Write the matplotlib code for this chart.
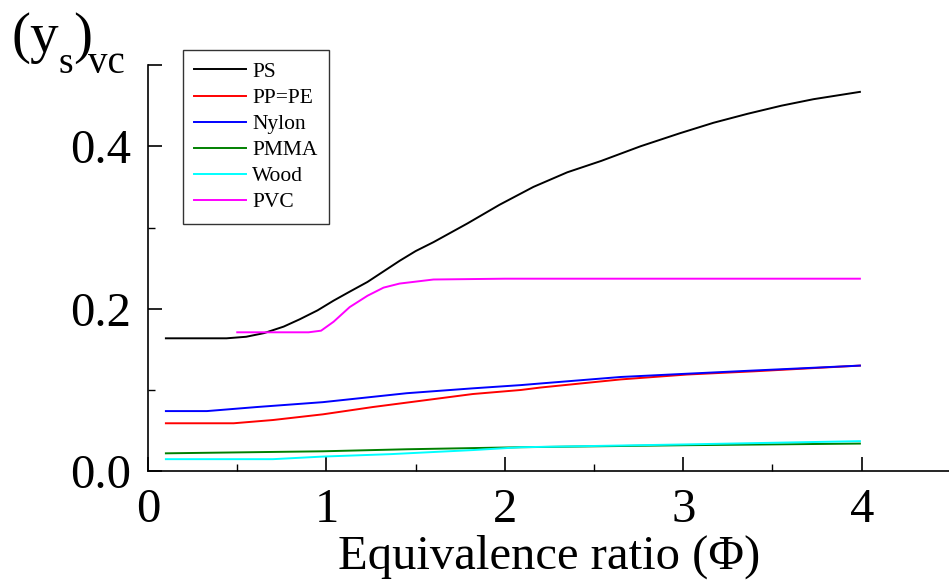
import matplotlib
matplotlib.use("Agg")
import matplotlib.pyplot as plt
from matplotlib.ticker import FixedLocator, MultipleLocator

plt.rcParams['font.family'] = ['Liberation Serif', 'DejaVu Serif']

# ---------------- data ----------------
ps_x = [0.1, 0.44, 0.55, 0.65, 0.76, 0.85, 0.95, 1.04, 1.13, 1.23, 1.32, 1.41,
        1.5, 1.6, 1.79, 1.97, 2.16, 2.35, 2.54, 2.76, 2.98, 3.17, 3.36, 3.55,
        3.73, 3.99]
ps_y = [0.1636, 0.1636, 0.1655, 0.170, 0.178, 0.187, 0.198, 0.210, 0.221, 0.233,
        0.246, 0.259, 0.271, 0.282, 0.305, 0.328, 0.350, 0.368, 0.382, 0.400,
        0.416, 0.429, 0.440, 0.450, 0.458, 0.467]

ppe_x = [0.1, 0.48, 0.70, 0.98, 1.26, 1.54, 1.82, 2.09, 2.2, 2.65, 3.02, 3.4, 3.99]
ppe_y = [0.059, 0.059, 0.063, 0.070, 0.079, 0.087, 0.095, 0.100, 0.103, 0.113,
         0.119, 0.123, 0.130]

nylon_x = [0.1, 0.33, 0.61, 0.98, 1.45, 1.82, 2.09, 2.2, 2.65, 3.02, 3.4, 3.99]
nylon_y = [0.074, 0.074, 0.079, 0.085, 0.096, 0.102, 0.106, 0.108, 0.116, 0.120,
           0.124, 0.130]

pmma_x = [0.1, 0.98, 1.45, 2.09, 3.02, 3.99]
pmma_y = [0.022, 0.0245, 0.027, 0.0295, 0.032, 0.034]

wood_x = [0.1, 0.70, 0.98, 1.36, 1.82, 2.09, 3.02, 3.99]
wood_y = [0.0148, 0.0148, 0.018, 0.021, 0.026, 0.0295, 0.033, 0.037]

pvc_x = [0.5, 0.9, 0.97, 1.04, 1.13, 1.23, 1.32, 1.41, 1.6, 2.0, 3.0, 3.99]
pvc_y = [0.171, 0.171, 0.173, 0.184, 0.202, 0.216, 0.226, 0.231, 0.236, 0.237,
         0.237, 0.237]

labels = ['PS', 'PP=PE', 'Nylon', 'PMMA', 'Wood', 'PVC']
colors = ['black', 'red', 'blue', 'green', 'cyan', 'magenta']

x_ticks = [0, 1, 2, 3, 4]
y_ticks = [0.0, 0.2, 0.4, 0.5]
y_tick_labels = ['0.0', '0.2', '0.4', '']

W, H = 949, 581

# ---------------- figure ----------------
fig = plt.figure(figsize=(W / 100, H / 100), dpi=100)
ax = fig.add_axes([0.156, 0.189, 0.846, 0.699])

series = [(ps_x, ps_y), (ppe_x, ppe_y), (nylon_x, nylon_y),
          (pmma_x, pmma_y), (wood_x, wood_y), (pvc_x, pvc_y)]
for (xs, ys), lab, col in zip(series, labels, colors):
    ax.plot(xs, ys, color=col, lw=1.4, label=lab)

ax.set_xlim(0, 4.5)
ax.set_ylim(0, 0.5)

ax.spines['top'].set_visible(False)
ax.spines['right'].set_visible(False)
for s in ['left', 'bottom']:
    ax.spines[s].set_linewidth(1.2)

ax.xaxis.set_major_locator(FixedLocator(x_ticks))
ax.xaxis.set_minor_locator(MultipleLocator(0.5))
ax.yaxis.set_major_locator(FixedLocator(y_ticks))
ax.set_yticklabels(y_tick_labels)
ax.yaxis.set_minor_locator(FixedLocator([0.1, 0.3]))

ax.tick_params(which='major', direction='in', length=10, width=1.2,
               labelsize=35, pad=12)
ax.tick_params(which='minor', direction='in', length=5, width=1.0)

ax.set_xlabel('Equivalence ratio (\u03a6)', fontsize=35, labelpad=2)

# y label "(y_s)_vc" in the top-left corner, pieced together
big, small = 41, 27
fig.text(12 / W, 1 - 52 / H, '(y', fontsize=big, ha='left', va='baseline')
fig.text(59 / W, 1 - 73 / H, 's', fontsize=small, ha='left', va='baseline')
fig.text(73 / W, 1 - 52 / H, ')', fontsize=big, ha='left', va='baseline')
fig.text(88 / W, 1 - 73 / H, 'vc', fontsize=small + 1, ha='left', va='baseline')

leg = ax.legend(loc='upper left', bbox_to_anchor=(0.043, 1.037),
                fontsize=15.5, frameon=True, fancybox=False, edgecolor='black',
                handlelength=2.4, handletextpad=0.28, labelspacing=0.28,
                borderpad=0.55, borderaxespad=0)
leg.get_frame().set_linewidth(1.0)

fig.savefig('out.png', dpi=100)
